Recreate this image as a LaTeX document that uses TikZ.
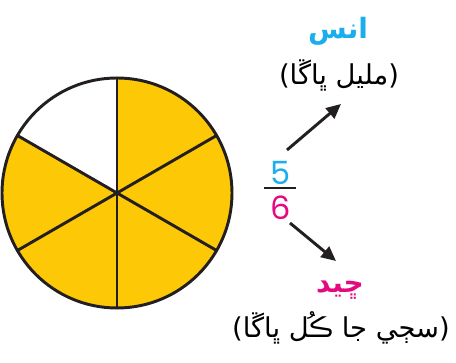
\documentclass[tikz,border=0pt]{standalone}
\usepackage{fontspec}
\usetikzlibrary{arrows.meta}
\TeXXeTstate=1
\newfontfamily\arabicfont[Script=Arabic]{DejaVu Sans}
\newfontfamily\digitfont{Poppins}
\definecolor{pieyellow}{HTML}{FDC906}
\definecolor{numcyan}{HTML}{1BAEEC}
\definecolor{denmag}{HTML}{E5097F}
\definecolor{inkdark}{HTML}{231F20}
\begin{document}
\begin{tikzpicture}[x=0.75pt,y=0.75pt,
  pointer/.style={draw=inkdark,line width=2.2pt,-{Triangle[length=11pt,width=10pt]}},
  digit/.style={font=\digitfont\fontsize{24}{28}\selectfont,inner sep=0pt},
  title/.style={font=\arabicfont\bfseries\fontsize{21}{25}\selectfont,inner sep=0pt},
  gloss/.style={font=\arabicfont\fontsize{20.5}{24}\selectfont,inner sep=0pt}]
\useasboundingbox (0,0) rectangle (456,363);
\coordinate (c) at (117,170);
% sectors
\fill[pieyellow] (c) -- ++(90:115) arc[start angle=90,end angle=-210,radius=115] -- cycle;
\fill[white] (c) -- ++(90:115) arc[start angle=90,end angle=150,radius=115] -- cycle;
\draw[inkdark,line width=2.2pt] (c) circle[radius=115];
\foreach \a in {90,30,-30,-90,-150,150}
  \draw[inkdark,line width=2.2pt,line cap=round] (c) -- ++(\a:115);
% fraction
\node[digit,text=numcyan] (num) at (281,190) {5};
\node[digit,text=denmag] (den) at (281,155) {6};
\coordinate (barl) at (264,175);
\coordinate (barr) at (296,175);
\draw[inkdark,line width=1.6pt] (barl) -- (barr);
% labels
\node[title,text=numcyan] (numname) at (338,332) {\beginR انس\endR};
\node[gloss] (numgloss) at (339,288) {\beginR (مليل ڀاڱا)\endR};
\node[title,text=denmag] (denname) at (340,73) {\beginR ڇيد\endR};
\node[gloss] (dengloss) at (341,35) {\beginR (سڄي جا ڪُل ڀاڱا)\endR};
% arrows
\coordinate (upstart) at (287,213);
\coordinate (upend) at (341,259);
\coordinate (dnstart) at (290,140);
\coordinate (dnend) at (336,102);
\draw[pointer] (upstart) -- (upend);
\draw[pointer] (dnstart) -- (dnend);
\end{tikzpicture}
\end{document}
